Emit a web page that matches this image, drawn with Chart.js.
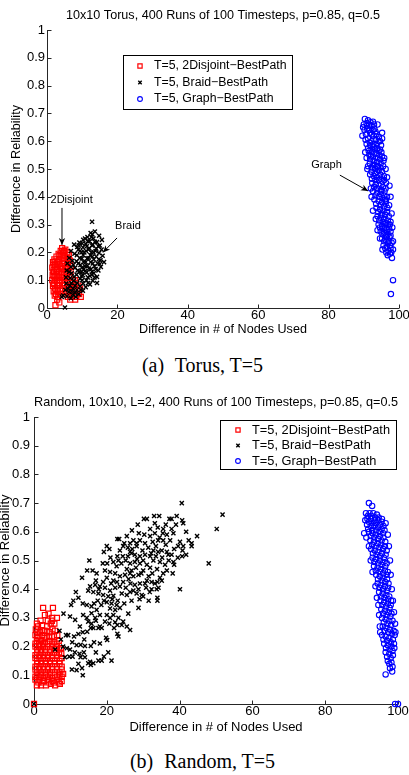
<!DOCTYPE html>
<html><head><meta charset="utf-8">
<script src="https://cdn.jsdelivr.net/npm/chart.js@4.4.0/dist/chart.umd.min.js"></script>
<style>
html,body{margin:0;padding:0;background:#fff;}
body{width:409px;height:775px;position:relative;overflow:hidden;}
canvas{position:absolute;left:0;}
.cap{position:absolute;left:0;width:405px;text-align:center;font-family:'Liberation Serif','Times New Roman',serif;font-size:20px;line-height:20px;color:#000;white-space:nowrap;}
.cap span{margin-right:6px;}
</style></head><body>
<canvas id="c1" width="409" height="338" style="top:0px"></canvas>
<canvas id="c2" width="409" height="349" style="top:385px"></canvas>
<div class="cap" style="top:355px"><span>(a)</span> Torus, T=5</div>
<div class="cap" style="top:751px"><span>(b)</span> Random, T=5</div>
<script>
// ---------- DATA ----------
const seriesLabels = ['T=5, 2Disjoint\u2212BestPath', 'T=5, Braid\u2212BestPath', 'T=5, Graph\u2212BestPath'];
const chartTitles = ['10x10 Torus, 400 Runs of 100 Timesteps, p=0.85, q=0.5',
                     'Random, 10x10, L=2, 400 Runs of 100 Timesteps, p=0.85, q=0.5'];
const xAxisTitle = 'Difference in # of Nodes Used';
const yAxisTitle = 'Difference in Reliability';
const xTickValues = [0, 20, 40, 60, 80, 100];
const yTickValues = [0, 0.1, 0.2, 0.3, 0.4, 0.5, 0.6, 0.7, 0.8, 0.9, 1];

// (a) Torus
const torusDisjoint = [
[4.3,0.215],[5.2,0.21],[3.9,0.205],[5.8,0.2],[4.6,0.2],[3.3,0.195],[5.0,0.19],[6.2,0.19],[2.7,0.185],[4.1,0.185],
[5.6,0.18],[2.1,0.175],[3.5,0.175],[4.8,0.17],[6.5,0.17],[1.7,0.165],[2.9,0.165],[4.2,0.16],[5.9,0.16],[2.3,0.155],
[3.6,0.15],[5.2,0.15],[6.8,0.15],[1.5,0.145],[2.8,0.14],[4.5,0.14],[6.1,0.14],[2.0,0.13],[3.4,0.13],[5.0,0.13],
[6.7,0.13],[1.6,0.12],[2.7,0.12],[4.1,0.12],[5.6,0.12],[2.2,0.11],[3.5,0.11],[4.9,0.11],[6.4,0.11],[1.5,0.1],
[2.9,0.1],[4.3,0.1],[5.8,0.1],[7.3,0.1],[2.1,0.09],[3.6,0.09],[5.1,0.09],[6.6,0.09],[8.2,0.09],[1.7,0.08],
[2.8,0.08],[4.4,0.08],[7.4,0.08],[8.9,0.08],[2.3,0.07],[3.7,0.07],[6.0,0.07],[7.9,0.07],[9.4,0.07],[1.9,0.06],
[3.1,0.06],[5.5,0.06],[6.9,0.06],[8.6,0.06],[2.6,0.05],[4.0,0.05],[6.3,0.05],[7.6,0.05],[9.1,0.05],[3.2,0.04],
[5.9,0.04],[7.1,0.04],[8.3,0.04],[9.6,0.04],[2.9,0.03],[6.6,0.03],[8.0,0.03],[3.5,0.02],[2.4,0.01],
[4.8,0.205],[3.6,0.19],[4.5,0.178],[5.9,0.175],[2.4,0.168],[3.2,0.158],[5.0,0.16],[1.9,0.155],[4.0,0.145],[5.7,0.145],
[2.4,0.142],[1.8,0.132],[2.8,0.13],[4.2,0.128],[5.6,0.132],[1.9,0.115],[3.0,0.115],[4.4,0.112],[5.6,0.11],[2.4,0.1],
[3.6,0.1],[5.1,0.1],[1.9,0.087],[3.2,0.082],[4.8,0.085],[6.1,0.08],[2.7,0.065],[4.4,0.062],[2.2,0.045],[3.6,0.05],
[8.0,0.1],[7.0,0.075],[8.3,0.048]
];
const torusBraid = [
[12.8,0.31],[13.6,0.275],[12.4,0.27],[14.8,0.26],[11.5,0.255],[13.2,0.25],[15.6,0.245],[10.3,0.245],[12.1,0.24],[14.2,0.237],
[9.2,0.235],[11.0,0.23],[13.0,0.228],[15.0,0.225],[7.7,0.228],[8.6,0.22],[10.2,0.218],[12.0,0.215],[14.0,0.213],[15.5,0.21],
[6.8,0.205],[9.4,0.205],[11.1,0.205],[13.2,0.2],[14.8,0.198],[7.8,0.195],[8.5,0.19],[10.3,0.19],[12.3,0.19],[14.0,0.185],
[15.8,0.188],[6.3,0.18],[9.3,0.18],[11.4,0.178],[13.3,0.175],[15.2,0.172],[7.2,0.17],[8.4,0.168],[10.4,0.165],[12.4,0.165],
[14.4,0.16],[16.2,0.165],[5.8,0.16],[9.5,0.155],[11.5,0.152],[13.5,0.15],[15.3,0.148],[6.8,0.148],[8.0,0.145],[10.5,0.14],
[12.5,0.14],[14.6,0.135],[5.6,0.135],[9.2,0.13],[11.3,0.128],[13.3,0.125],[7.0,0.125],[8.4,0.12],[10.2,0.118],[12.2,0.115],
[14.2,0.112],[5.4,0.11],[6.6,0.108],[9.4,0.105],[11.2,0.1],[13.0,0.098],[7.6,0.098],[8.6,0.09],[10.3,0.088],[12.2,0.085],
[14.2,0.09],[5.5,0.088],[6.5,0.08],[9.4,0.078],[11.0,0.075],[7.4,0.07],[8.5,0.065],[10.2,0.062],[5.2,0.065],[6.2,0.058],
[9.0,0.05],[7.3,0.048],[8.2,0.04],[5.7,0.042],[4.6,0.045],[6.8,0.035],[5.1,0.002],[4.2,0.04],[11.8,0.21],[10.8,0.25],
[12.9,0.265],[9.8,0.2],[13.8,0.205],[8.9,0.21],[11.8,0.18],[10.8,0.15],[12.8,0.13],[9.8,0.13],[11.6,0.11],
[12.6,0.255],[11.6,0.24],[13.6,0.238],[10.0,0.232],[12.8,0.225],[14.6,0.222],[9.0,0.225],[11.3,0.222],[10.6,0.2],[12.6,0.2],
[9.9,0.178],[12.9,0.185],[14.7,0.175],[8.9,0.16],[11.0,0.165],[13.0,0.16],[15.0,0.158],[7.5,0.155],[9.9,0.145],[11.9,0.142],
[13.8,0.14],[6.3,0.13],[8.7,0.135],[10.8,0.132],[12.7,0.12],[7.7,0.112],[9.8,0.115],[11.7,0.09],[8.0,0.08],[10.0,0.1],
[6.9,0.09],[9.6,0.065],[8.0,0.055],[6.0,0.07],[7.0,0.06],[13.5,0.11]
];
const torusGraph = [
[90.3,0.68],[91.2,0.675],[89.8,0.65],[92.6,0.67],[90.8,0.665],[91.6,0.66],[92.2,0.655],[90.2,0.64],[91.0,0.645],[93.0,0.645],
[95.2,0.63],[95.2,0.61],[90.6,0.625],[91.8,0.63],[92.8,0.62],[93.6,0.625],[91.2,0.61],[92.2,0.6],[93.4,0.605],[94.2,0.6],
[90.8,0.59],[91.8,0.585],[92.8,0.58],[93.8,0.575],[94.6,0.57],[91.4,0.565],[92.4,0.56],[93.4,0.555],[94.4,0.55],[95.2,0.545],
[90.8,0.54],[91.8,0.535],[92.8,0.53],[93.8,0.525],[94.8,0.52],[95.5,0.51],[91.2,0.51],[92.2,0.505],[93.2,0.5],[94.2,0.495],
[95.2,0.49],[91.8,0.48],[92.8,0.475],[93.8,0.47],[94.8,0.465],[95.8,0.46],[92.4,0.45],[93.4,0.445],[94.4,0.44],[95.4,0.435],
[96.2,0.43],[92.6,0.42],[93.8,0.415],[94.8,0.41],[95.8,0.405],[96.6,0.4],[93.0,0.39],[94.2,0.385],[95.2,0.38],[96.2,0.375],
[92.6,0.35],[93.6,0.36],[94.6,0.355],[95.6,0.35],[96.6,0.345],[97.2,0.37],[93.9,0.33],[94.8,0.325],[95.8,0.32],[96.8,0.315],
[97.6,0.31],[94.2,0.3],[95.2,0.295],[96.2,0.29],[97.2,0.285],[94.8,0.275],[95.8,0.27],[96.8,0.265],[97.6,0.26],[95.2,0.25],
[96.2,0.245],[97.2,0.24],[97.9,0.235],[95.6,0.225],[96.6,0.22],[97.6,0.215],[96.4,0.2],[97.4,0.195],[98.0,0.18],[98.3,0.1],
[97.7,0.05],[91.5,0.64],[92.5,0.64],[90.5,0.605],[92.0,0.545],[93.0,0.515],[94.0,0.51],[93.3,0.485],[94.3,0.46],[95.0,0.42],
[96.0,0.39],[95.0,0.335],[96.0,0.305],[96.5,0.255],[97.0,0.3],[93.8,0.43],
[90.0,0.66],[91.9,0.668],[92.9,0.66],[90.9,0.655],[93.3,0.635],[92.3,0.625],[94.3,0.615],[91.7,0.595],[92.7,0.59],[93.7,0.59],
[94.9,0.585],[91.2,0.575],[92.2,0.57],[93.2,0.57],[94.2,0.565],[95.0,0.56],[91.6,0.55],[92.6,0.545],[93.6,0.54],[94.6,0.535],
[95.6,0.53],[91.7,0.52],[92.7,0.515],[93.7,0.51],[94.7,0.505],[92.2,0.49],[93.7,0.49],[94.7,0.48],[95.7,0.475],[92.3,0.465],
[93.3,0.46],[95.3,0.455],[96.3,0.45],[92.9,0.435],[93.9,0.43],[94.9,0.425],[95.9,0.42],[93.3,0.405],[94.3,0.4],[95.3,0.395],
[96.3,0.385],[93.5,0.375],[94.7,0.37],[95.7,0.365],[96.7,0.36],[94.1,0.345],[95.1,0.34],[96.1,0.335],[97.1,0.33],[94.4,0.315],
[95.4,0.31],[96.4,0.305],[97.4,0.3],[94.6,0.29],[95.6,0.285],[96.6,0.28],[97.6,0.275],[95.3,0.265],[96.3,0.26],[97.3,0.255],
[95.8,0.24],[96.8,0.235],[97.5,0.225],[96.1,0.215],[97.0,0.205],[97.8,0.2],[96.8,0.19],
[96.2,0.5],[96.6,0.47],[91.0,0.5],[90.4,0.56],[89.6,0.62],[93.9,0.66],[94.6,0.6],[95.8,0.54],[97.3,0.44],[97.6,0.4],
[92.0,0.43],[92.2,0.4],[97.9,0.34],[98.1,0.29],[93.4,0.32],[93.9,0.28],[94.6,0.25],[98.3,0.24],[98.3,0.21],[95.3,0.21]
];

// (b) Random
const randomDisjoint = [
[5.2,0.335],[2.5,0.335],[3.0,0.31],[4.0,0.315],[6.3,0.3],[5.0,0.3],[1.1,0.27],[2.2,0.275],[3.6,0.27],[0.5,0.26],
[4.6,0.28],[5.6,0.28],[1.6,0.25],[2.9,0.255],[4.2,0.25],[5.8,0.255],[0.4,0.24],[1.2,0.235],[2.3,0.24],[3.5,0.235],
[4.9,0.235],[6.4,0.24],[0.8,0.22],[1.9,0.22],[3.0,0.215],[4.3,0.22],[5.6,0.215],[6.8,0.22],[0.4,0.2],[1.4,0.2],
[2.5,0.2],[3.7,0.2],[5.0,0.2],[6.3,0.2],[7.4,0.195],[0.9,0.18],[2.0,0.18],[3.1,0.18],[4.4,0.18],[5.6,0.18],
[6.9,0.18],[0.4,0.16],[1.5,0.16],[2.6,0.16],[3.8,0.16],[5.0,0.16],[6.3,0.16],[7.6,0.16],[0.9,0.14],[2.0,0.14],
[3.2,0.14],[4.4,0.14],[5.7,0.14],[7.0,0.14],[0.4,0.12],[1.5,0.12],[2.6,0.12],[3.8,0.12],[5.0,0.12],[6.3,0.12],
[7.6,0.12],[0.9,0.1],[2.0,0.1],[3.2,0.1],[4.4,0.1],[5.7,0.1],[7.0,0.1],[8.0,0.105],[0.4,0.085],[1.5,0.085],
[2.7,0.08],[3.9,0.085],[5.1,0.08],[6.4,0.085],[7.6,0.08],[0.8,0.065],[1.9,0.065],[3.3,0.065],[4.6,0.07],[5.8,0.065],
[7.1,0.07],[0,0],
[1.0,0.25],[2.3,0.255],[3.5,0.255],[5.1,0.26],[0.9,0.23],[2.9,0.23],[4.2,0.235],[5.5,0.235],[0.4,0.21],[1.4,0.21],
[2.5,0.21],[3.7,0.21],[5.0,0.21],[6.2,0.21],[0.9,0.19],[1.9,0.19],[3.1,0.19],[4.4,0.19],[5.6,0.19],[6.9,0.19],
[0.4,0.17],[1.5,0.17],[2.6,0.17],[3.8,0.17],[5.0,0.17],[6.3,0.17],[7.5,0.175],[0.9,0.15],[2.0,0.15],[3.2,0.15],
[4.4,0.15],[5.7,0.15],[7.0,0.15],[0.4,0.13],[1.5,0.13],[2.6,0.13],[3.8,0.13],[5.0,0.13],[6.3,0.13],[7.6,0.13],
[0.9,0.11],[2.0,0.11],[3.2,0.11],[4.4,0.11],[5.7,0.11],[7.0,0.11],[0.4,0.095],[1.5,0.095],[2.6,0.09],[3.8,0.095],
[5.0,0.09],[6.3,0.095],[7.6,0.095],[1.2,0.075],[2.3,0.075],[4.0,0.075],[5.5,0.075],[6.8,0.075],[1.8,0.29],[3.8,0.29],
[4.9,0.29],[0.8,0.28]
];
const randomBraid = [
[40.6,0.70],[51.8,0.66],[50.2,0.61],[48.0,0.49],[40.1,0.40],[43.3,0.56],[43.3,0.55],[40.8,0.535],[40.7,0.515],[39.2,0.655],
[40.7,0.64],[41.0,0.63],[41.8,0.60],[34.4,0.655],[33.0,0.655],[30.2,0.645],[31.0,0.645],[28.5,0.625],[33.2,0.63],[35.5,0.61],
[35.4,0.595],[37.8,0.61],[38.3,0.595],[37.2,0.645],[37.8,0.645],[31.9,0.61],[33.2,0.595],[31.9,0.585],[34.1,0.57],[35.5,0.57],
[37.4,0.57],[40.1,0.565],[39.6,0.55],[41.0,0.55],[38.3,0.495],[38.5,0.485],[38.1,0.455],[36.5,0.53],[36.9,0.52],[37.8,0.52],
[36.0,0.485],[36.5,0.465],[34.6,0.495],[32.8,0.50],[31.9,0.475],[30.0,0.465],[34.6,0.44],[35.1,0.43],[33.9,0.425],[32.3,0.425],
[33.2,0.42],[34.2,0.405],[32.3,0.40],[33.7,0.40],[33.9,0.37],[33.9,0.36],[29.6,0.38],[30.0,0.375],[27.3,0.395],[28.2,0.385],
[29.1,0.42],[30.5,0.42],[31.0,0.43],[27.3,0.445],[28.7,0.45],[28.7,0.335],[28.2,0.56],[29.1,0.57],[30.5,0.56],[31.4,0.545],
[32.8,0.535],[34.1,0.53],[35.1,0.535],[26.8,0.525],[27.7,0.52],[29.1,0.515],[30.5,0.52],[31.9,0.515],[26.4,0.49],[27.7,0.495],
[29.1,0.49],[31.0,0.485],[26.8,0.465],[25.5,0.585],[26.4,0.56],[27.3,0.57],[28.2,0.55],[26.4,0.53],[22.9,0.575],[23.4,0.575],
[20.0,0.55],[20.7,0.54],[19.2,0.53],[23.6,0.535],[22.9,0.515],[24.4,0.515],[21.8,0.495],[22.7,0.48],[18.9,0.49],[20.1,0.49],
[15.2,0.50],[14.6,0.465],[16.1,0.465],[17.2,0.455],[19.5,0.465],[20.9,0.46],[22.3,0.455],[20.0,0.44],[21.8,0.43],[23.6,0.445],
[25.0,0.45],[26.4,0.455],[15.4,0.41],[16.8,0.415],[18.1,0.41],[19.5,0.405],[20.9,0.395],[22.3,0.405],[23.6,0.41],[14.9,0.395],
[16.3,0.39],[17.7,0.385],[19.0,0.38],[20.4,0.375],[21.8,0.377],[24.1,0.385],[25.5,0.38],[26.4,0.39],[27.7,0.415],[28.7,0.40],
[12.2,0.37],[10.2,0.345],[13.4,0.35],[14.5,0.345],[15.8,0.34],[8.1,0.315],[20.0,0.355],[21.3,0.35],[22.7,0.345],[23.6,0.335],
[20.9,0.333],[22.3,0.328],[25.9,0.315],[17.2,0.328],[18.1,0.31],[15.8,0.316],[20.0,0.31],[20.9,0.30],[19.5,0.287],[23.2,0.30],
[24.5,0.287],[25.5,0.27],[26.4,0.258],[22.3,0.285],[24.1,0.275],[22.9,0.275],[18.1,0.27],[20.7,0.28],[14.9,0.287],[15.8,0.28],
[9.9,0.305],[11.3,0.293],[13.5,0.31],[14.5,0.30],[12.6,0.27],[13.4,0.25],[15.6,0.265],[16.3,0.265],[17.7,0.265],[18.6,0.265],
[22.9,0.245],[23.2,0.235],[19.8,0.231],[20.1,0.223],[18.1,0.211],[7.0,0.255],[8.8,0.24],[9.4,0.24],[12.2,0.244],[14.6,0.252],
[7.4,0.225],[5.8,0.19],[9.9,0.19],[11.7,0.205],[12.8,0.206],[14.0,0.202],[15.6,0.202],[9.0,0.194],[12.5,0.175],[13.7,0.18],
[20.4,0.18],[8.5,0.163],[9.7,0.165],[10.6,0.165],[12.8,0.163],[14.0,0.163],[12.2,0.14],[14.9,0.142],[15.4,0.147],[16.3,0.142],
[15.6,0.136],[17.7,0.151],[18.6,0.151],[21.3,0.151],[10.4,0.12],[11.7,0.118],[13.4,0.10],[0,0],
[24.8,0.56],[25.8,0.545],[27.0,0.54],[29.8,0.535],[33.5,0.55],[36.2,0.555],[38.5,0.54],[37.0,0.5],[35.2,0.51],[33.5,0.515],
[32.2,0.525],[30.0,0.5],[28.3,0.505],[25.2,0.5],[24.0,0.49],[25.5,0.47],[28.0,0.475],[29.5,0.455],[32.5,0.455],[33.8,0.47],
[35.5,0.455],[31.5,0.445],[26.0,0.435],[24.5,0.425],[25.2,0.405],[26.5,0.42],[30.8,0.405],[31.8,0.39],[29.0,0.365],[31.5,0.36],
[26.8,0.36],[24.8,0.35],[23.0,0.36],[21.5,0.365],[19.2,0.36],[17.5,0.36],[16.5,0.35],[18.5,0.345],[17.8,0.4],[21.2,0.42],
[19.0,0.425],[17.0,0.43],[22.8,0.425],[21.0,0.51],[23.2,0.5],[25.8,0.515],[34.5,0.58],[36.5,0.59],[32.6,0.565],[39.0,0.625],
[36.2,0.625],[34.0,0.615],[30.3,0.59],[28.8,0.595],[26.9,0.605],[24.5,0.55],[39.5,0.51],[41.8,0.52],[42.5,0.57],[44.8,0.585],
[13.2,0.44],[11.5,0.39],[10.8,0.36],[16.8,0.3],[17.0,0.29],[21.8,0.31],[22.0,0.265],[13.8,0.225],[11.0,0.235],[16.5,0.215],
[10.5,0.215],[8.0,0.2],[17.0,0.18],[11.2,0.18],[13.2,0.125],[19.2,0.165]
];
const randomGraph = [
[92.0,0.70],[92.9,0.69],[91.2,0.665],[92.2,0.665],[93.2,0.665],[94.2,0.66],[91.6,0.645],[92.6,0.645],[93.6,0.64],[94.6,0.64],
[95.5,0.635],[90.7,0.595],[91.5,0.625],[92.5,0.62],[93.5,0.62],[94.5,0.615],[95.5,0.61],[96.3,0.605],[92.0,0.6],[93.0,0.595],
[94.0,0.59],[95.0,0.585],[96.0,0.58],[92.4,0.57],[93.4,0.565],[94.4,0.56],[95.4,0.555],[96.4,0.55],[92.6,0.54],[93.6,0.535],
[94.6,0.53],[95.6,0.525],[96.6,0.52],[93.0,0.51],[94.0,0.505],[95.0,0.5],[96.0,0.495],[96.9,0.49],[93.4,0.48],[94.4,0.475],
[95.4,0.47],[96.4,0.465],[97.2,0.46],[94.0,0.45],[95.0,0.445],[96.0,0.44],[97.0,0.435],[94.4,0.42],[95.4,0.415],[96.4,0.41],
[97.3,0.405],[94.8,0.39],[95.8,0.385],[96.8,0.38],[97.6,0.375],[94.6,0.345],[95.2,0.36],[96.2,0.355],[97.2,0.35],[98.0,0.345],
[95.4,0.33],[96.4,0.325],[97.4,0.32],[98.2,0.315],[95.6,0.3],[96.6,0.295],[97.6,0.29],[98.5,0.29],[95.8,0.27],[96.8,0.265],
[97.8,0.26],[98.8,0.255],[95.6,0.24],[96.6,0.235],[97.6,0.23],[98.6,0.225],[99.1,0.24],[96.2,0.21],[97.2,0.205],[98.2,0.2],
[99.0,0.195],[96.6,0.18],[97.6,0.175],[98.6,0.17],[97.2,0.15],[98.2,0.145],[97.8,0.125],[96.6,0.103],[98.4,0.113],[99.2,0],
[100,0],
[91.7,0.655],[92.7,0.655],[93.7,0.65],[94.7,0.65],[95.6,0.645],[92.0,0.635],[93.0,0.63],[94.0,0.63],[95.0,0.625],[96.0,0.62],
[91.8,0.61],[92.9,0.605],[93.9,0.605],[94.9,0.6],[95.9,0.595],[92.5,0.585],[93.5,0.58],[94.5,0.575],[95.5,0.57],[96.5,0.565],
[92.9,0.555],[93.9,0.55],[94.9,0.545],[95.9,0.54],[96.9,0.535],[93.1,0.525],[94.1,0.52],[95.1,0.515],[96.1,0.51],[93.5,0.495],
[94.5,0.49],[95.5,0.485],[96.5,0.48],[93.9,0.465],[94.9,0.46],[95.9,0.455],[96.9,0.45],[94.5,0.435],[95.5,0.43],[96.5,0.425],
[97.4,0.42],[94.9,0.405],[95.9,0.4],[96.9,0.395],[95.3,0.375],[96.3,0.37],[97.3,0.365],[98.1,0.36],[95.7,0.345],[96.7,0.34],
[97.7,0.335],[95.9,0.315],[96.9,0.31],[97.9,0.305],[96.1,0.285],[97.1,0.28],[98.1,0.275],[96.3,0.255],[97.3,0.25],[98.3,0.245],
[96.0,0.225],[97.0,0.22],[98.0,0.215],[98.9,0.21],[96.7,0.195],[97.7,0.19],[98.5,0.185],[97.0,0.165],[98.0,0.16],[97.6,0.14],
[98.5,0.13],
[91.0,0.64],[96.6,0.63],[97.2,0.59],[91.3,0.58],[97.5,0.55],[92.0,0.55],[97.8,0.5],[92.5,0.5],[98.0,0.45],[93.0,0.46],
[98.3,0.4],[93.8,0.41],[98.6,0.36],[94.2,0.37],[98.9,0.32],[94.8,0.31],[99.2,0.28],[95.0,0.27],[99.3,0.25],[95.1,0.25]
];

// Text annotations of panel (a), anchored in data units
const torusNotes = [
  {text: 'Graph',     at: [79.4, 0.514], from: [83.2, 0.478], to: [91.2, 0.421]},
  {text: '2Disjoint', at: [7.0, 0.388],  from: [4.26, 0.36],  to: [4.26, 0.227]},
  {text: 'Braid',     at: [23.0, 0.295], from: [19.9, 0.252], to: [15.9, 0.2]}
];

// ---------- RENDERING ----------
const FONT = "'Liberation Sans', Arial, Helvetica, sans-serif";
Chart.defaults.font.family = FONT;
Chart.defaults.color = '#000';

const toPts = a => a.map(p => ({x: p[0], y: p[1]}));

const axesPlugin = {
  id: 'matlabAxes',
  beforeDatasetsDraw(chart) {
    const {ctx, chartArea: a, scales: {x, y}} = chart;
    ctx.save();
    ctx.strokeStyle = '#262626'; ctx.lineWidth = 1;
    ctx.beginPath();
    const L = Math.round(a.left) + 0.5, B = Math.round(a.bottom) + 0.5;
    ctx.moveTo(L, Math.round(a.top)); ctx.lineTo(L, B);
    ctx.lineTo(Math.round(a.right), B);
    x.ticks.forEach(t => { const px = Math.round(x.getPixelForValue(t.value)) + 0.5; ctx.moveTo(px, B); ctx.lineTo(px, B - 4); });
    y.ticks.forEach(t => { const py = Math.round(y.getPixelForValue(t.value)) + 0.5; ctx.moveTo(L, py); ctx.lineTo(L + 4, py); });
    ctx.stroke();
    ctx.restore();
  }
};

const notesPlugin = {
  id: 'notes',
  afterDatasetsDraw(chart, args, opts) {
    const items = (opts && opts.items) || [];
    if (!items.length) return;
    const {ctx, scales: {x, y}} = chart;
    ctx.save();
    ctx.fillStyle = '#000'; ctx.strokeStyle = '#000'; ctx.lineWidth = 1;
    ctx.font = '11px ' + FONT;
    ctx.textAlign = 'center'; ctx.textBaseline = 'middle';
    items.forEach(n => {
      ctx.fillText(n.text, x.getPixelForValue(n.at[0]), y.getPixelForValue(n.at[1]));
      const x1 = x.getPixelForValue(n.from[0]), y1 = y.getPixelForValue(n.from[1]);
      const x2 = x.getPixelForValue(n.to[0]), y2 = y.getPixelForValue(n.to[1]);
      ctx.beginPath(); ctx.moveTo(x1, y1); ctx.lineTo(x2, y2); ctx.stroke();
      const ang = Math.atan2(y2 - y1, x2 - x1), Lh = 7, W = 3.2, N = 2;
      const ux = Math.cos(ang), uy = Math.sin(ang);
      ctx.beginPath();
      ctx.moveTo(x2, y2);
      ctx.lineTo(x2 - Lh * ux - W * uy, y2 - Lh * uy + W * ux);
      ctx.lineTo(x2 - (Lh - N) * ux, y2 - (Lh - N) * uy);
      ctx.lineTo(x2 - Lh * ux + W * uy, y2 - Lh * uy - W * ux);
      ctx.closePath(); ctx.fill();
    });
    ctx.restore();
  }
};

const boxLegend = {
  id: 'boxLegend',
  afterDraw(chart, args, o) {
    const {ctx, chartArea: a} = chart;
    const left = Math.round(o.right != null ? a.right - o.right - o.width : a.left + o.left);
    const top = Math.round(a.top + o.top);
    ctx.save();
    ctx.fillStyle = '#fff'; ctx.fillRect(left, top, o.width, o.height);
    ctx.strokeStyle = '#000'; ctx.lineWidth = 1;
    ctx.strokeRect(left + 0.5, top + 0.5, o.width, o.height);
    ctx.font = o.fontSize + 'px ' + FONT;
    ctx.textBaseline = 'middle'; ctx.textAlign = 'left';
    chart.data.datasets.forEach((ds, i) => {
      const cy = top + o.firstRow + i * o.rowGap;
      ctx.strokeStyle = ds.borderColor; ctx.fillStyle = 'rgba(0,0,0,0)'; ctx.lineWidth = ds.borderWidth;
      Chart.helpers.drawPoint(ctx, {pointStyle: ds.pointStyle, radius: o.markerRadius[i], borderWidth: ds.borderWidth, rotation: 0}, left + o.markerX, cy);
      ctx.fillStyle = '#000';
      ctx.fillText(ds.label, left + o.textX, cy);
    });
    ctx.restore();
  }
};

function makeChart(id, c) {
  return new Chart(document.getElementById(id), {
    type: 'scatter',
    data: {datasets: [
      {label: seriesLabels[0], data: toPts(c.red), pointStyle: 'rect', pointRadius: 3.6, borderColor: '#ff0000', backgroundColor: 'rgba(0,0,0,0)', borderWidth: 1.2, order: 3, clip: false},
      {label: seriesLabels[1], data: toPts(c.black), pointStyle: 'crossRot', pointRadius: 2.9, borderColor: '#000000', backgroundColor: '#000000', borderWidth: 1.4, order: 2, clip: false},
      {label: seriesLabels[2], data: toPts(c.blue), pointStyle: 'circle', pointRadius: 2.7, borderColor: '#0000ff', backgroundColor: 'rgba(0,0,0,0)', borderWidth: 1.1, order: 1, clip: false}
    ]},
    options: {
      responsive: false, animation: false, devicePixelRatio: 1, events: [],
      layout: {padding: {left: 0, right: c.padR, top: 0, bottom: 0}},
      plugins: {
        legend: {display: false}, tooltip: {enabled: false},
        title: {display: true, fullSize: false, text: c.title, color: '#000', font: {size: c.fs, weight: 'normal', family: FONT}, padding: {top: c.tTop, bottom: c.tBot}},
        notes: {items: c.notes},
        boxLegend: c.legend
      },
      scales: {
        x: {
          type: 'linear', position: 'bottom', min: 0, max: 100,
          afterBuildTicks: s => { s.ticks = xTickValues.map(v => ({value: v})); },
          ticks: {autoSkip: false, maxRotation: 0, padding: 0, color: '#000', font: {size: c.tickFs}, callback: v => String(v)},
          grid: {display: false, drawTicks: false}, border: {display: false},
          title: {display: true, text: xAxisTitle, color: '#000', font: {size: c.fs}, padding: {top: 0, bottom: c.xtPad}},
          afterFit: s => { s.height = 30; s.paddingLeft = 0; s.paddingRight = 0; }
        },
        y: {
          type: 'linear', position: 'left', min: 0, max: 1,
          afterBuildTicks: s => { s.ticks = yTickValues.map(v => ({value: v})); },
          ticks: {autoSkip: false, padding: c.yPad, color: '#000', font: {size: c.tickFs}, callback: v => String(Math.round(v * 10) / 10)},
          grid: {display: false, drawTicks: false}, border: {display: false},
          title: {display: true, text: yAxisTitle, color: '#000', font: {size: c.fs}, padding: {top: c.ytPad, bottom: 0}},
          afterFit: s => { s.width = c.yW; s.paddingTop = 0; s.paddingBottom = 0; s.paddingLeft = 0; s.paddingRight = 0; }
        }
      }
    },
    plugins: [axesPlugin, notesPlugin, boxLegend]
  });
}

makeChart('c1', {
  red: torusDisjoint, black: torusBraid, blue: torusGraph, title: chartTitles[0], notes: torusNotes,
  yW: 47, padR: 10, fs: 12.6, tickFs: 13, tTop: 8.44, tBot: 6.44, xtPad: 0.44, yPad: 2, ytPad: 9.44,
  legend: {left: 76, top: 25, width: 169, height: 54, markerX: 17, textX: 31, firstRow: 11, rowGap: 16.5, fontSize: 12.3, markerRadius: [3, 2.4, 2.4]}
});
makeChart('c2', {
  red: randomDisjoint, black: randomBraid, blue: randomGraph, title: chartTitles[1], notes: [],
  yW: 34, padR: 11, fs: 13, tickFs: 13, tTop: 9.2, tBot: 7.2, xtPad: -0.8, yPad: 4, ytPad: -2.8,
  legend: {right: 2, top: 3, width: 176, height: 49, markerX: 18, textX: 32, firstRow: 10, rowGap: 15.5, fontSize: 12.8, markerRadius: [3, 2.4, 2.4]}
});
</script>
</body></html>
